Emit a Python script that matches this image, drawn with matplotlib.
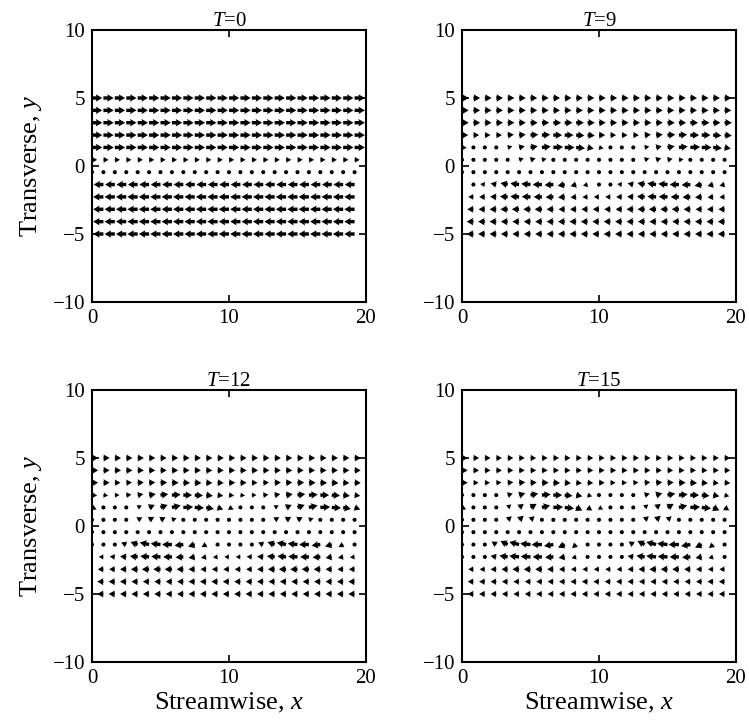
import numpy as np
import matplotlib
matplotlib.use("Agg")
import matplotlib.pyplot as plt

# grid of the velocity field (24 streamwise stations, 12 transverse rows, top row first)
NX, NY = 24, 12
TIMES = ["0", "9", "12", "15"]
X_TICKS = [0, 10, 20]
Y_TICKS = [-10, -5, 0, 5, 10]

# --- T = 0 : undisturbed shear layer ---
U_T0 = [
    [1.0] * 24,
    [1.0] * 24,
    [1.0] * 24,
    [1.0] * 24,
    [1.0] * 24,
    [0.5] * 24,
    [0.05] * 24,
    [-0.95] * 24,
    [-1.0] * 24,
    [-1.0] * 24,
    [-1.0] * 24,
    [-1.0] * 24,
]
V_T0 = [[0.0] * 24 for _ in range(12)]

# --- T = 9 ---
U_T9 = [
    [0.65] * 24,
    [0.65] * 24,
    [0.65, 0.65, 0.65, 0.65, 0.65, 0.65, 0.7, 0.7, 0.75, 0.75, 0.75, 0.7, 0.65, 0.65, 0.65, 0.65, 0.65, 0.65, 0.7, 0.7, 0.75, 0.75, 0.7, 0.7],
    [0.6, 0.55, 0.55, 0.55, 0.6, 0.65, 0.75, 0.8, 0.85, 0.85, 0.8, 0.7, 0.6, 0.55, 0.55, 0.55, 0.6, 0.65, 0.75, 0.8, 0.85, 0.85, 0.8, 0.7],
    [0.45, 0.4, 0.35, 0.35, 0.45, 0.55, 0.7, 0.85, 0.95, 0.95, 0.85, 0.6, 0.45, 0.4, 0.35, 0.35, 0.45, 0.55, 0.7, 0.85, 0.95, 0.95, 0.85, 0.6],
    [0.3, 0.3, 0.3, 0.35, 0.4, 0.45, 0.5, 0.45, 0.35, 0.25, 0.2, 0.2, 0.25, 0.3, 0.35, 0.4, 0.45, 0.5, 0.5, 0.45, 0.35, 0.25, 0.2, 0.2],
    [-0.05, -0.05, -0.05, 0.0, 0.0, 0.0, -0.05, -0.05, -0.1, -0.1, -0.05, -0.05, -0.05, -0.05, -0.05, 0.0, 0.0, 0.0, -0.05, -0.05, -0.1, -0.1, -0.05, -0.05],
    [-0.45, -0.4, -0.45, -0.55, -0.7, -0.85, -0.9, -0.9, -0.85, -0.7, -0.55, -0.45, -0.4, -0.4, -0.45, -0.55, -0.7, -0.85, -0.9, -0.9, -0.85, -0.7, -0.55, -0.5],
    [-0.55, -0.5, -0.55, -0.6, -0.75, -0.85, -0.85, -0.8, -0.75, -0.65, -0.55, -0.5, -0.5, -0.5, -0.55, -0.6, -0.75, -0.85, -0.85, -0.8, -0.75, -0.65, -0.55, -0.5],
    [-0.6, -0.6, -0.6, -0.65, -0.7, -0.7, -0.7, -0.7, -0.65, -0.6, -0.6, -0.6, -0.6, -0.6, -0.6, -0.65, -0.7, -0.7, -0.7, -0.7, -0.65, -0.6, -0.6, -0.6],
    [-0.65] * 24,
    [-0.65] * 24,
]
V_T9 = [
    [0.0] * 24,
    [0.0] * 24,
    [0.0] * 24,
    [0.0, 0.0, 0.0, 0.0, 0.05, 0.05, 0.05, 0.05, 0.0, 0.0, -0.05, -0.05, 0.0, 0.0, 0.0, 0.0, 0.05, 0.05, 0.05, 0.05, 0.0, 0.0, -0.05, -0.05],
    [-0.05, -0.1, -0.05, 0.0, 0.1, 0.12, 0.12, 0.1, 0.05, 0.0, -0.08, -0.12, -0.1, -0.05, 0.0, 0.05, 0.1, 0.12, 0.12, 0.1, 0.05, 0.0, -0.08, -0.12],
    [-0.1, -0.05, 0.0, 0.05, 0.1, 0.15, 0.15, 0.1, 0.0, -0.1, -0.15, -0.15, -0.1, -0.05, 0.05, 0.1, 0.15, 0.15, 0.1, 0.05, 0.0, -0.1, -0.15, -0.15],
    [0.0, 0.0, 0.05, 0.1, 0.15, 0.15, 0.1, 0.05, 0.0, -0.1, -0.15, -0.15, -0.1, 0.0, 0.05, 0.1, 0.15, 0.15, 0.1, 0.05, 0.0, -0.1, -0.15, -0.12],
    [-0.05, 0.0, 0.05, 0.12, 0.15, 0.12, 0.08, 0.0, -0.05, -0.12, -0.15, -0.12, -0.05, 0.0, 0.05, 0.12, 0.15, 0.12, 0.08, 0.0, -0.05, -0.12, -0.15, -0.12],
    [0.0, 0.0, 0.0, 0.03, 0.05, 0.05, 0.03, 0.0, -0.03, -0.05, -0.05, -0.03, 0.0, 0.0, 0.0, 0.03, 0.05, 0.05, 0.03, 0.0, -0.03, -0.05, -0.05, -0.03],
    [0.0] * 24,
    [0.0] * 24,
    [0.0] * 24,
]

# --- T = 12 ---
U_T12 = [
    [0.6] * 24,
    [0.6] * 24,
    [0.6, 0.6, 0.55, 0.55, 0.6, 0.6, 0.65, 0.65, 0.65, 0.65, 0.6, 0.6, 0.6, 0.6, 0.55, 0.55, 0.6, 0.6, 0.65, 0.65, 0.65, 0.65, 0.6, 0.6],
    [0.5, 0.45, 0.45, 0.5, 0.55, 0.65, 0.75, 0.85, 0.85, 0.8, 0.65, 0.55, 0.5, 0.45, 0.45, 0.5, 0.55, 0.65, 0.75, 0.85, 0.85, 0.8, 0.65, 0.55],
    [0.45, 0.35, 0.3, 0.3, 0.4, 0.55, 0.7, 0.85, 0.95, 0.9, 0.75, 0.55, 0.45, 0.35, 0.3, 0.3, 0.4, 0.55, 0.7, 0.85, 0.95, 0.9, 0.75, 0.55],
    [0.2, 0.15, 0.2, 0.35, 0.45, 0.5, 0.5, 0.45, 0.35, 0.2, 0.1, 0.1, 0.2, 0.15, 0.2, 0.35, 0.45, 0.5, 0.5, 0.45, 0.35, 0.2, 0.1, 0.1],
    [-0.05, -0.05, -0.05, -0.05, 0.0, 0.0, -0.05, -0.1, -0.15, -0.15, -0.1, -0.05, -0.05, -0.05, -0.05, -0.05, 0.0, 0.0, -0.05, -0.1, -0.15, -0.15, -0.1, -0.05],
    [-0.3, -0.3, -0.35, -0.5, -0.7, -0.9, -0.95, -0.95, -0.85, -0.65, -0.45, -0.35, -0.3, -0.3, -0.35, -0.5, -0.7, -0.9, -0.95, -0.95, -0.85, -0.65, -0.45, -0.35],
    [-0.45, -0.45, -0.5, -0.6, -0.75, -0.85, -0.9, -0.85, -0.75, -0.6, -0.5, -0.45, -0.45, -0.45, -0.5, -0.6, -0.75, -0.85, -0.9, -0.85, -0.75, -0.6, -0.5, -0.45],
    [-0.55, -0.55, -0.55, -0.6, -0.65, -0.7, -0.7, -0.7, -0.65, -0.6, -0.55, -0.55, -0.55, -0.55, -0.55, -0.6, -0.65, -0.7, -0.7, -0.7, -0.65, -0.6, -0.55, -0.55],
    [-0.6] * 24,
    [-0.6] * 24,
]
V_T12 = [
    [0.0] * 24,
    [0.0] * 24,
    [0.0, 0.0, 0.0, 0.02, 0.03, 0.03, 0.02, 0.0, -0.02, -0.03, -0.03, -0.02, 0.0, 0.0, 0.0, 0.02, 0.03, 0.03, 0.02, 0.0, -0.02, -0.03, -0.03, -0.02],
    [-0.05, -0.05, 0.0, 0.05, 0.1, 0.1, 0.1, 0.05, 0.0, -0.05, -0.08, -0.08, -0.05, -0.05, 0.0, 0.05, 0.1, 0.1, 0.1, 0.05, 0.0, -0.05, -0.08, -0.08],
    [-0.2, -0.2, -0.1, 0.05, 0.2, 0.25, 0.25, 0.2, 0.05, -0.05, -0.15, -0.2, -0.2, -0.2, -0.1, 0.05, 0.2, 0.25, 0.25, 0.2, 0.05, -0.05, -0.15, -0.2],
    [-0.15, -0.05, 0.05, 0.15, 0.25, 0.28, 0.25, 0.15, 0.0, -0.15, -0.25, -0.25, -0.15, -0.05, 0.05, 0.15, 0.25, 0.28, 0.25, 0.15, 0.0, -0.15, -0.25, -0.25],
    [-0.05, 0.0, 0.1, 0.2, 0.28, 0.3, 0.25, 0.1, -0.05, -0.2, -0.28, -0.2, -0.05, 0.0, 0.1, 0.2, 0.28, 0.3, 0.25, 0.1, -0.05, -0.2, -0.28, -0.2],
    [0.0, 0.05, 0.1, 0.2, 0.25, 0.2, 0.1, 0.0, -0.1, -0.2, -0.25, -0.15, 0.0, 0.05, 0.1, 0.2, 0.25, 0.2, 0.1, 0.0, -0.1, -0.2, -0.25, -0.15],
    [0.0, 0.0, 0.03, 0.05, 0.08, 0.08, 0.05, 0.0, -0.05, -0.1, -0.1, -0.05, 0.0, 0.0, 0.03, 0.05, 0.08, 0.08, 0.05, 0.0, -0.05, -0.1, -0.1, -0.05],
    [0.0] * 24,
    [0.0] * 24,
    [0.0] * 24,
]

# --- T = 15 ---
U_T15 = [
    [0.55] * 24,
    [0.55] * 24,
    [0.55, 0.5, 0.5, 0.5, 0.55, 0.6, 0.6, 0.65, 0.65, 0.6, 0.55, 0.55, 0.55, 0.5, 0.5, 0.5, 0.55, 0.6, 0.6, 0.65, 0.65, 0.6, 0.55, 0.55],
    [0.4, 0.35, 0.35, 0.4, 0.5, 0.6, 0.75, 0.85, 0.85, 0.75, 0.6, 0.45, 0.4, 0.35, 0.35, 0.4, 0.5, 0.6, 0.75, 0.85, 0.85, 0.75, 0.6, 0.45],
    [0.4, 0.3, 0.2, 0.2, 0.35, 0.45, 0.6, 0.8, 0.95, 0.9, 0.6, 0.45, 0.4, 0.3, 0.2, 0.2, 0.35, 0.45, 0.6, 0.8, 0.95, 0.9, 0.6, 0.45],
    [0.1, 0.05, 0.1, 0.3, 0.4, 0.45, 0.4, 0.35, 0.25, 0.1, 0.05, 0.05, 0.1, 0.05, 0.1, 0.3, 0.4, 0.45, 0.4, 0.35, 0.25, 0.1, 0.05, 0.05],
    [-0.05, -0.05, -0.05, 0.0, 0.0, 0.0, -0.05, -0.1, -0.15, -0.15, -0.1, -0.05, -0.05, -0.05, -0.05, 0.0, 0.0, 0.0, -0.05, -0.1, -0.15, -0.15, -0.1, -0.05],
    [-0.2, -0.2, -0.3, -0.45, -0.7, -0.95, -1.0, -1.0, -0.9, -0.65, -0.4, -0.25, -0.2, -0.2, -0.3, -0.45, -0.7, -0.95, -1.0, -1.0, -0.9, -0.65, -0.4, -0.25],
    [-0.35, -0.35, -0.4, -0.55, -0.8, -0.95, -0.95, -0.9, -0.8, -0.6, -0.45, -0.35, -0.35, -0.35, -0.4, -0.55, -0.8, -0.95, -0.95, -0.9, -0.8, -0.6, -0.45, -0.35],
    [-0.5, -0.5, -0.5, -0.55, -0.6, -0.65, -0.65, -0.65, -0.6, -0.55, -0.5, -0.5, -0.5, -0.5, -0.5, -0.55, -0.6, -0.65, -0.65, -0.65, -0.6, -0.55, -0.5, -0.5],
    [-0.55] * 24,
    [-0.55] * 24,
]
V_T15 = [
    [0.0] * 24,
    [0.0] * 24,
    [0.0, 0.0, 0.0, 0.03, 0.05, 0.05, 0.03, 0.0, -0.03, -0.05, -0.05, -0.03, 0.0, 0.0, 0.0, 0.03, 0.05, 0.05, 0.03, 0.0, -0.03, -0.05, -0.05, -0.03],
    [-0.1, -0.1, -0.05, 0.05, 0.15, 0.18, 0.15, 0.08, 0.0, -0.08, -0.12, -0.12, -0.1, -0.1, -0.05, 0.05, 0.15, 0.18, 0.15, 0.08, 0.0, -0.08, -0.12, -0.12],
    [-0.2, -0.3, -0.15, 0.05, 0.3, 0.35, 0.35, 0.2, 0.05, -0.1, -0.3, -0.3, -0.2, -0.3, -0.15, 0.05, 0.3, 0.35, 0.35, 0.2, 0.05, -0.1, -0.3, -0.3],
    [-0.25, -0.1, 0.05, 0.2, 0.35, 0.4, 0.35, 0.25, 0.05, -0.2, -0.35, -0.35, -0.25, -0.1, 0.05, 0.2, 0.35, 0.4, 0.35, 0.25, 0.05, -0.2, -0.35, -0.35],
    [-0.1, 0.0, 0.1, 0.25, 0.35, 0.4, 0.35, 0.15, -0.05, -0.25, -0.35, -0.3, -0.1, 0.0, 0.1, 0.25, 0.35, 0.4, 0.35, 0.15, -0.05, -0.25, -0.35, -0.3],
    [0.0, 0.05, 0.15, 0.3, 0.35, 0.25, 0.1, 0.0, -0.15, -0.3, -0.35, -0.2, 0.0, 0.05, 0.15, 0.3, 0.35, 0.25, 0.1, 0.0, -0.15, -0.3, -0.35, -0.2],
    [0.0, 0.03, 0.05, 0.1, 0.12, 0.1, 0.05, 0.0, -0.05, -0.1, -0.12, -0.05, 0.0, 0.03, 0.05, 0.1, 0.12, 0.1, 0.05, 0.0, -0.05, -0.1, -0.12, -0.05],
    [0.0] * 24,
    [0.0] * 24,
    [0.0] * 24,
]

FIELDS = [(U_T0, V_T0), (U_T9, V_T9), (U_T12, V_T12), (U_T15, V_T15)]

plt.rcParams["font.family"] = ["Liberation Serif", "DejaVu Serif"]
plt.rcParams["mathtext.fontset"] = "custom"
plt.rcParams["mathtext.rm"] = "Liberation Serif"
plt.rcParams["mathtext.it"] = "Liberation Serif:italic"

x = np.linspace(0, 20, NX, endpoint=False)
y = np.linspace(5, -5, NY)
X, Y = np.meshgrid(x, y)

fig = plt.figure(figsize=(7.49, 7.24), dpi=100)
W, H = 749, 724
boxes = [(92, 30), (462, 30), (92, 390), (462, 390)]  # left, top in pixels

for k, (t, (u, v)) in enumerate(zip(TIMES, FIELDS)):
    left, top = boxes[k]
    ax = fig.add_axes([left / W, 1 - (top + 272) / H, 274 / W, 272 / H])
    ax.quiver(X, Y, np.array(u), np.array(v), angles="xy", scale_units="xy",
              scale=1 / 0.75, pivot="tail", width=0.0125, headwidth=2.2,
              headlength=1.9, headaxislength=1.7, minlength=1.3, minshaft=1,
              color="black")
    ax.set_xlim(0, 20)
    ax.set_ylim(-10, 10)
    ax.set_xticks(X_TICKS)
    ax.set_yticks(Y_TICKS)
    ax.set_yticklabels(["\u221210", "\u22125", "0", "5", "10"])
    ax.tick_params(direction="in", top=True, right=True, length=5, width=1.2,
                   labelsize=15, pad=5)
    for s in ax.spines.values():
        s.set_linewidth(1.5)
    ax.set_title(rf"$T$=${t}$", fontsize=15, pad=3)
    if k % 2 == 0:
        ax.set_ylabel(r"Transverse, $y$", fontsize=19, labelpad=6)
    if k >= 2:
        ax.set_xlabel(r"Streamwise, $x$", fontsize=19, labelpad=2)

fig.savefig("out.png", dpi=100)
